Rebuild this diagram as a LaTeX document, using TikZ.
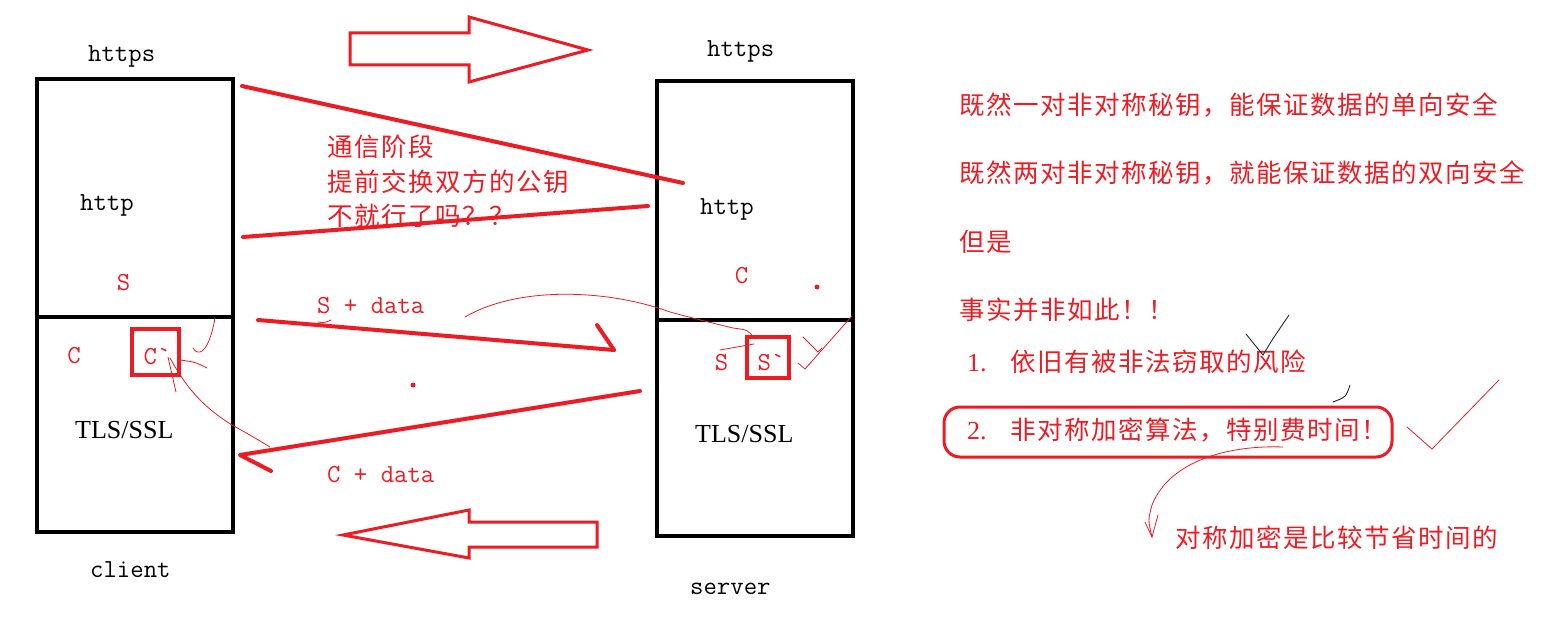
\documentclass[tikz,border=0pt]{standalone}
\usepackage{fontspec}
\newfontfamily\cjkfont[LetterSpace=6]{Noto Sans CJK SC}
\newfontfamily\serifL{Liberation Serif}
\definecolor{pred}{RGB}{237,28,36}
\definecolor{pgray}{RGB}{40,40,40}
\tikzset{
  box/.style={draw=black, line width=3.5pt, inner sep=0pt, outer sep=0pt},
  redbox/.style={draw=pred, line width=3.5pt, inner sep=0pt},
  mono/.style={font=\fontsize{26}{30}\selectfont\ttfamily, inner sep=0pt},
  tls/.style={font=\fontsize{26}{30}\selectfont\serifL, inner sep=0pt},
  cjktxt/.style={text=pred, font=\fontsize{25.5}{28}\selectfont\cjkfont, inner sep=0pt, anchor=west},
  stroke/.style={draw=pred, line width=4pt, line cap=round, line join=round},
  thinred/.style={draw=pred, line width=0.8pt, line cap=round},
  thinblack/.style={draw=pgray, line width=0.9pt, line cap=round},
  blockarrow/.style={draw=pred, line width=3pt, line join=miter},
}
\begin{document}
\begin{tikzpicture}[x=1pt,y=-1pt]
\useasboundingbox (0,0) rectangle (1567,618);
\fill[white] (0,0) rectangle (1567,618);

% boxes
\node[box, minimum width=196pt, minimum height=238pt] (Ltop) at (135,198) {};
\node[box, minimum width=196pt, minimum height=215pt] (Lbot) at (135,424.5) {};
\node[box, minimum width=196pt, minimum height=239pt] (Rtop) at (755,200.5) {};
\node[box, minimum width=196pt, minimum height=216pt] (Rbot) at (755,428) {};

% black labels
\node[mono, anchor=base west] (httpsL) at (88,62) {https};
\node[mono, anchor=base west] (httpsR) at (707,57) {https};
\node[mono, anchor=base west] (httpL) at (80,210) {http};
\node[mono, anchor=base west] (httpR) at (700,214) {http};
\node[tls, anchor=base west] (tlsL) at (75,438) {TLS/SSL};
\node[tls, anchor=base west] (tlsR) at (695,442) {TLS/SSL};
\node[mono, anchor=base west] (client) at (90,577) {client};
\node[mono, anchor=base west] (server) at (690,594) {server};

% red key labels
\node[mono, text=pred, anchor=base] (SL) at (123.5,290) {S};
\node[mono, text=pred, anchor=base] (CL) at (74,363) {C};
\node[mono, text=pred, anchor=base] (CpL) at (157,364) {C\char96};
\node[redbox, minimum width=47pt, minimum height=46pt] (CpBox) at (155.5,352) {};
\node[mono, text=pred, anchor=base] (CR) at (741.5,283) {C};
\node[mono, text=pred, anchor=base] (SR) at (721.5,370) {S};
\node[mono, text=pred, anchor=base] (SpR) at (771,370) {S\char96};
\node[redbox, minimum width=42pt, minimum height=41pt] (SpBox) at (768,357.5) {};

% message labels
\node[mono, text=pred, anchor=base west] (sdata) at (317,313) {S + data};
\node[mono, text=pred, anchor=base west] (cdata) at (327,482) {C + data};

% question text
\node[cjktxt] (q1) at (327,147) {通信阶段};
\node[cjktxt] (q2) at (327,182) {提前交换双方的公钥};
\node[cjktxt] (q3) at (327,216) {不就行了吗？？};

% block arrows
\draw[blockarrow] (350,33) -- (469,33) -- (469,17) -- (588,50) -- (469,82) -- (469,65) -- (350,65) -- cycle;
\draw[blockarrow] (597,522) -- (469,522) -- (469,510) -- (343,535) -- (469,558) -- (469,547) -- (597,547) -- cycle;

% crossing strokes
\coordinate (a1) at (242,86);  \coordinate (a2) at (683,183);
\coordinate (b1) at (243,237); \coordinate (b2) at (648,206);
\draw[stroke] (a1) -- (a2);
\draw[stroke] (b1) -- (b2);

% S + data arrow
\coordinate (c1) at (258,320); \coordinate (c2) at (614,350); \coordinate (c3) at (597,325);
\draw[stroke] (c1) -- (c2);
\draw[stroke] (c3) -- (c2);
% C + data arrow
\coordinate (d1) at (640,391); \coordinate (d2) at (240,455); \coordinate (d3) at (271,471);
\draw[stroke] (d1) -- (d2) -- (d3);

% dots
\fill[pred] (413,385) circle (2.5pt);
\fill[pred] (817,287) circle (2.5pt);

% thin hand strokes (server side)
\draw[thinred] (465,317) .. controls (520,285) and (610,290) .. (670,312) .. controls (700,320) .. (733,328) .. controls (748,330) .. (754,338);
\draw[thinred] (720,350) -- (754,344);
\draw[thinred] (318,322) .. controls (324,323) .. (331,320);
\draw[thinred] (803,337) -- (818,352) -- (822,348);
\draw[thinred] (798,363) -- (805,369) -- (852,316);

% thin hand strokes (client side)
\draw[thinred] (215,318) .. controls (212,335) and (207,350) .. (200,352) .. controls (196,352) .. (193,348);
\draw[thinred] (180,360) .. controls (195,362) .. (207,368);
\draw[thinred] (168,357) -- (176,392);
\draw[thinred] (170,358) .. controls (185,385) and (200,405) .. (232,425) .. controls (250,435) .. (270,447);

% right notes
\node[cjktxt] (n1) at (959,105) {既然一对非对称秘钥，能保证数据的单向安全};
\node[cjktxt] (n2) at (959,173) {既然两对非对称秘钥，就能保证数据的双向安全};
\node[cjktxt] (n3) at (959,242) {但是};
\node[cjktxt] (n4) at (959,310) {事实并非如此！！};
\node[cjktxt] (n5) at (967,362) {\makebox[43pt][l]{\fontsize{26}{30}\selectfont\serifL 1.}依旧有被非法窃取的风险};
\node[cjktxt] (n6) at (967,430) {\makebox[43pt][l]{\fontsize{26}{30}\selectfont\serifL 2.}非对称加密算法，特别费时间！};
\node[draw=pred, line width=3pt, rounded corners=16pt, minimum width=448pt, minimum height=50pt, inner sep=0pt] (hl) at (1168,432) {};
\node[cjktxt] (n7) at (1175,538) {对称加密是比较节省时间的};

% marks on notes
\draw[thinblack] (1246,334) -- (1263,355) .. controls (1272,340) .. (1289,315);
\draw[thinblack] (1350,385) .. controls (1346,397) .. (1333,402);
\draw[thinred] (1407,427) -- (1432,449) -- (1499,380);
\draw[thinred] (1283,447) .. controls (1230,445) and (1170,460) .. (1152,505) .. controls (1148,520) .. (1152,537);
\draw[thinred] (1145,522) -- (1152,537) -- (1158,515);
\end{tikzpicture}
\end{document}
